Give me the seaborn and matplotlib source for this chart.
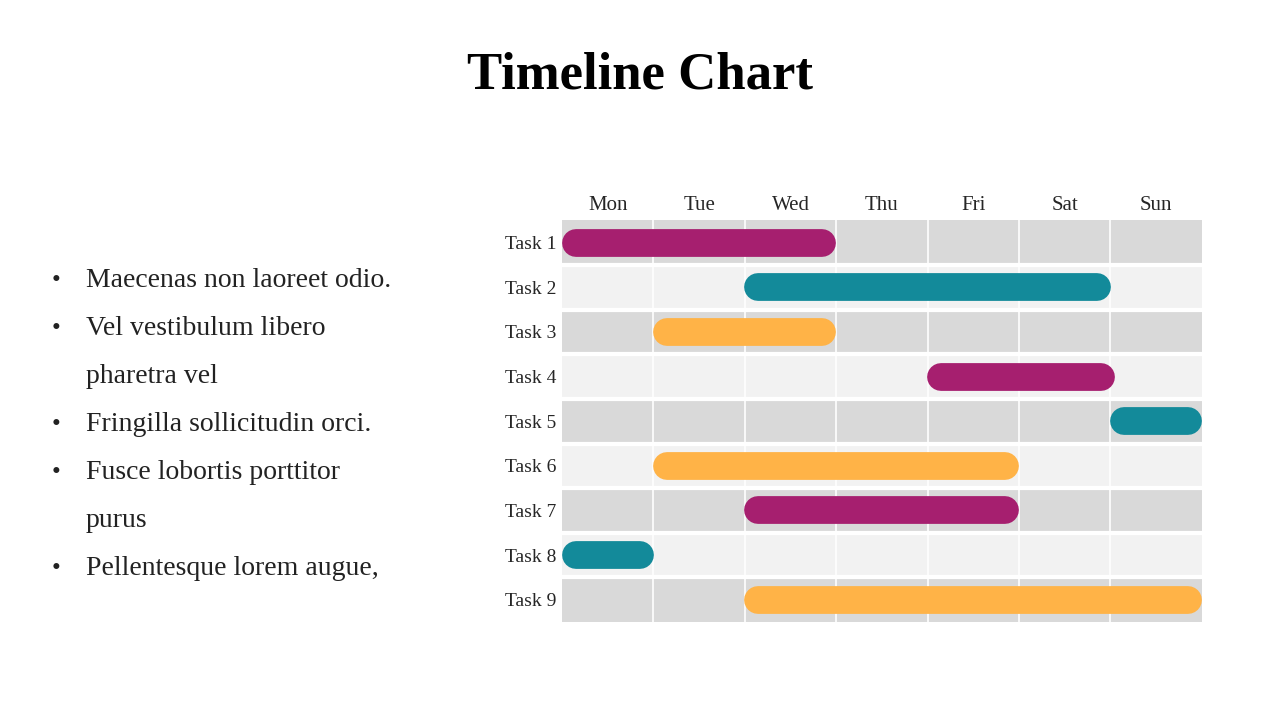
import matplotlib
matplotlib.use("Agg")
import matplotlib.pyplot as plt
import seaborn as sns

days = ["Mon", "Tue", "Wed", "Thu", "Fri", "Sat", "Sun"]
tasks = ["Task 1", "Task 2", "Task 3", "Task 4", "Task 5", "Task 6", "Task 7", "Task 8", "Task 9"]
starts = [0, 2, 1, 4, 6, 1, 2, 0, 2]
ends = [3, 6, 3, 6.05, 7, 5, 5, 1, 7]
colors = ["#a61f6f", "#138a9a", "#ffb347", "#a61f6f", "#138a9a", "#ffb347", "#a61f6f", "#138a9a", "#ffb347"]
bullets = ["Maecenas non laoreet odio.", "Vel vestibulum libero\npharetra vel",
           "Fringilla sollicitudin orci.", "Fusce lobortis porttitor\npurus",
           "Pellentesque lorem augue,"]

sns.set_theme(style="white")
serif = "Liberation Serif"
fig = plt.figure(figsize=(12.8, 7.2), dpi=100)
fig.text(0.5, 0.895, "Timeline Chart", ha="center", va="center", fontsize=38,
         fontweight="bold", family=serif, color="black")

ax = fig.add_axes([0.439, 0.136, 0.5, 0.558])
n = len(tasks)
for i in range(n):
    ax.axhspan(i - 0.5, i + 0.5, color="#d9d9d9" if i % 2 == 0 else "#f2f2f2", lw=0, zorder=0)
    if i > 0:
        ax.axhline(i - 0.5, color="white", lw=3, zorder=1)
for d in range(1, 7):
    ax.axvline(d, color="white", lw=1.2, zorder=1)

r = 0.15
for i in range(n):
    ax.plot([starts[i] + r, ends[i] - r], [i, i], color=colors[i], lw=20,
            solid_capstyle="round", zorder=3)

ax.set_xlim(0, 7)
ax.set_ylim(n - 0.5, -0.5)
ax.set_xticks([d + 0.5 for d in range(7)])
ax.set_xticklabels(days, family=serif, fontsize=15)
ax.xaxis.tick_top()
ax.set_yticks(range(n))
ax.set_yticklabels(tasks, family=serif, fontsize=14)
ax.tick_params(length=0, pad=4)
for s in ax.spines.values():
    s.set_visible(False)

y = 0.61
for b in bullets:
    lines = b.split("\n")
    fig.text(0.04, y, "•", fontsize=18, family=serif, va="center", color="#222222")
    for ln in lines:
        fig.text(0.067, y, ln, fontsize=20, family=serif, va="center", color="#222222")
        y -= 0.0667

fig.savefig("out.png", dpi=100)
